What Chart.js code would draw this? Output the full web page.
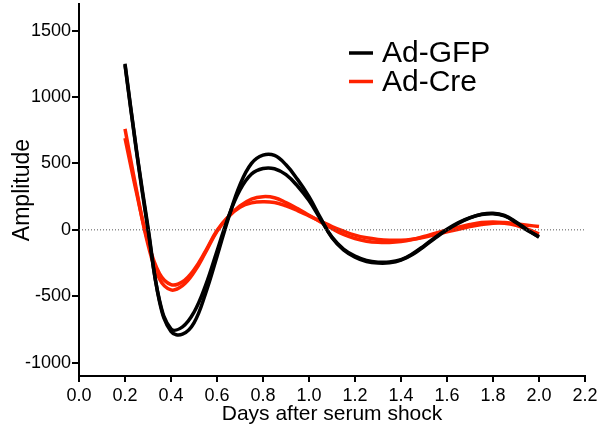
<!DOCTYPE html>
<html>
<head>
<meta charset="utf-8">
<script src="https://cdn.jsdelivr.net/npm/chart.js@4"></script>
<style>
  html, body { margin: 0; padding: 0; background: #fff; }
  #wrap { width: 605px; height: 433px; }
</style>
</head>
<body>
<div id="wrap"><canvas id="grafico"></canvas></div>
<script>
// Dias após o choque de soro
const dias = [0.20, 0.25, 0.30, 0.35, 0.40, 0.45, 0.50, 0.55, 0.60, 0.65, 0.70, 0.75, 0.80, 0.85, 0.90, 0.95,
              1.00, 1.05, 1.10, 1.15, 1.20, 1.25, 1.30, 1.35, 1.40, 1.45, 1.50, 1.55, 1.60, 1.65, 1.70, 1.75,
              1.80, 1.85, 1.90, 1.95, 2.00];

// Ad-GFP (duas réplicas)
const gfpA = [1250, 600, 20, -540, -765, -785, -700, -480, -200, 90, 340, 500, 562, 560, 490, 380,
              250, 90, -60, -150, -205, -238, -250, -248, -228, -185, -125, -60, 0, 50, 90, 117,
              125, 108, 60, 0, -55];
const gfpB = [1240, 590, 0, -530, -745, -730, -620, -420, -160, 100, 300, 420, 462, 460, 415, 330,
              220, 80, -55, -145, -198, -230, -243, -242, -224, -180, -120, -55, 5, 55, 92, 115,
              121, 105, 55, -5, -50];

// Ad-Cre (duas réplicas)
const creA = [760, 300, -110, -370, -452, -420, -320, -170, -10, 100, 180, 232, 250, 242, 205, 160,
              110, 60, 10, -35, -65, -85, -94, -95, -88, -72, -50, -25, 0, 20, 40, 55,
              60, 55, 45, 35, 25];
const creB = [690, 280, -90, -330, -412, -390, -300, -160, -5, 100, 170, 203, 212, 206, 180, 145,
              105, 65, 25, -10, -40, -60, -72, -78, -78, -70, -55, -35, -15, 5, 25, 40,
              50, 50, 35, 5, -30];

const xTicks = [0.0, 0.2, 0.4, 0.6, 0.8, 1.0, 1.2, 1.4, 1.6, 1.8, 2.0, 2.2];
const yTicks = [-1000, -500, 0, 500, 1000, 1500];
const linhaZero = [0, 0];
const xZero = [0, 2.2];

const legenda = [
  { nome: "Ad-GFP", cor: "#000000" },
  { nome: "Ad-Cre", cor: "#ff2200" }
];

const pontos = (xs, ys) => xs.map((x, i) => ({ x: x, y: ys[i] }));

const serie = (dados, cor) => ({
  data: pontos(dias, dados),
  borderColor: cor,
  borderWidth: 3.5,
  pointRadius: 0,
  tension: 0.4,
  fill: false
});

// Legenda desenhada dentro da área do gráfico
const legendaPlugin = {
  id: "legendaInterna",
  afterDatasetsDraw(chart) {
    const ctx = chart.ctx;
    ctx.save();
    legenda.forEach((item, i) => {
      const y = 53 + i * 28.5;
      ctx.strokeStyle = item.cor;
      ctx.lineWidth = 3.5;
      ctx.beginPath();
      ctx.moveTo(349, y);
      ctx.lineTo(373, y);
      ctx.stroke();
      ctx.fillStyle = "#000";
      ctx.font = "30px 'Liberation Sans', Arial, sans-serif";
      ctx.textBaseline = "middle";
      ctx.fillText(item.nome, 382, y + 1);
    });
    ctx.restore();
  }
};

const fonte = "'Liberation Sans', Arial, sans-serif";

new Chart(document.getElementById("grafico"), {
  type: "line",
  data: {
    datasets: [
      {
        data: pontos(xZero, linhaZero),
        borderColor: "#555",
        borderWidth: 1,
        borderDash: [1, 2],
        pointRadius: 0,
        fill: false
      },
      serie(gfpA, "#000000"),
      serie(gfpB, "#000000"),
      serie(creA, "#ff2200"),
      serie(creB, "#ff2200")
    ]
  },
  options: {
    responsive: true,
    maintainAspectRatio: false,
    animation: false,
    layout: { padding: { top: 4, right: 20, left: 0, bottom: 0 } },
    plugins: {
      legend: { display: false },
      tooltip: { enabled: false }
    },
    scales: {
      x: {
        type: "linear",
        min: 0,
        max: 2.2,
        afterBuildTicks: (s) => { s.ticks = xTicks.map(v => ({ value: v })); },
        afterFit: (s) => { s.height = 57; s.paddingLeft = 0; s.paddingRight = 0; },
        grid: { display: true, drawOnChartArea: false, drawTicks: true, tickLength: 6, color: "#000", lineWidth: 2 },
        border: { display: true, color: "#000", width: 2 },
        ticks: {
          color: "#000",
          padding: 3,
          maxRotation: 0,
          font: { family: fonte, size: 18 },
          callback: (v) => Number(v).toFixed(1)
        },
        title: {
          display: true,
          text: "Days after serum shock",
          color: "#000",
          font: { family: fonte, size: 21 },
          padding: { top: 0, bottom: 6 }
        }
      },
      y: {
        min: -1100,
        max: 1700,
        afterBuildTicks: (s) => { s.ticks = yTicks.map(v => ({ value: v })); },
        afterFit: (s) => { s.width = 79; s.paddingTop = 0; s.paddingBottom = 0; },
        grid: { display: true, drawOnChartArea: false, drawTicks: true, tickLength: 7, color: "#000", lineWidth: 2 },
        border: { display: true, color: "#000", width: 2 },
        ticks: {
          color: "#000",
          padding: 1,
          font: { family: fonte, size: 18 },
          callback: (v) => String(v)
        },
        title: {
          display: true,
          text: "Amplitude",
          color: "#000",
          font: { family: fonte, size: 23 },
          padding: { top: 9, bottom: 0 }
        }
      }
    }
  },
  plugins: [legendaPlugin]
});
</script>
</body>
</html>
